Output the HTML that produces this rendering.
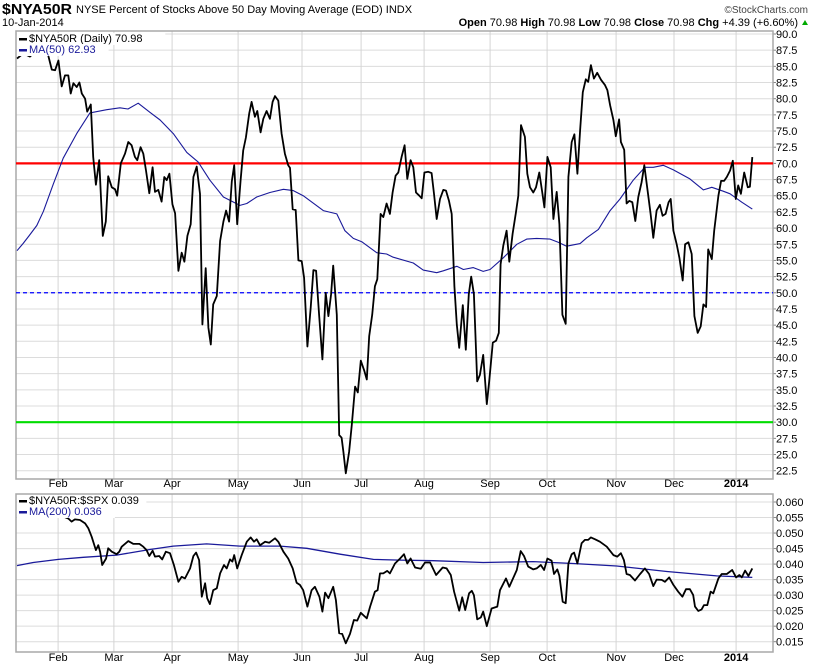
<!DOCTYPE html>
<html><head><meta charset="utf-8">
<style>
body{margin:0;background:#fff;width:820px;height:668px;overflow:hidden;font-family:"Liberation Sans",sans-serif}
svg{display:block}
</style></head>
<body>
<svg id="c" width="820" height="668" xmlns="http://www.w3.org/2000/svg"></svg>
<script>
// ---- data ----
const monthLabels=["Feb","Mar","Apr","May","Jun","Jul","Aug","Sep","Oct","Nov","Dec","2014"];
const monthDays=[13.7,32.3,51.7,73.7,95,114.7,135.7,157.7,176.7,199.7,219,239.7];
const mainTicks=[90,87.5,85,82.5,80,77.5,75,72.5,70,67.5,65,62.5,60,57.5,55,52.5,50,47.5,45,42.5,40,37.5,35,32.5,30,27.5,25,22.5];
const lowTicks=[0.060,0.055,0.050,0.045,0.040,0.035,0.030,0.025,0.020,0.015];
const priceDays=[0,2.1,4.3,6.6,9.4,10.4,11.6,12.7,13.8,14.9,16,17.1,17.9,18.8,19.9,20.8,21.6,22.7,23.4,24.6,25.4,26.3,27.4,28.6,29.6,30.4,31.6,32.7,33.4,34.6,36,37.1,38.2,39.3,40.1,41.2,42.1,43,44.1,45.2,46,47.1,48.2,49.1,49.9,50.8,51.8,52.7,53.8,54.9,55.8,56.8,57.9,58.8,59.9,61,61.8,62.9,63.8,64.6,65.4,66.6,67.7,68.8,69.7,70.7,71.6,72.4,73.4,74.5,75.4,76.3,77.4,78.2,79.3,80.1,81.2,82.1,83.2,84.3,85.2,86,87.1,88.2,89.3,90.4,91,91.9,92.9,93.8,94.9,95.7,96.8,97.9,98.8,99.7,100.7,101.8,102.9,103.8,104.7,105.4,106.6,107.4,108.2,108.8,109.6,110.7,111.6,112.7,113.6,114.6,115.8,116.6,117.4,118.4,119.3,120.1,121.2,122.1,123.2,124.3,125.2,126.2,127.1,128.2,129.2,130.1,131.2,132.1,133,134.1,134.9,135.8,137.1,138.2,139,139.9,141,142.1,143,144,144.9,145.8,146.6,147.4,148.6,149.6,150.6,151.4,152.3,153.4,154.3,155.4,156.6,157.4,158.6,159.7,160.6,161.2,162.1,163.2,164.1,165.2,166.3,167.1,168,169.3,170.1,171,172.1,173,174.1,175,175.8,176.8,177.9,178.8,179.9,180.8,181.8,182.9,183.8,184.9,185.8,186.8,187.7,188.6,189.6,190.4,191.3,192.3,193.4,194.7,196,196.8,197.7,198.8,199.6,200.7,201.3,202.4,203.2,204.1,205.1,206.1,207.1,208.2,209.1,210.2,211.2,212.1,213.2,214.3,215.2,216.2,217.2,217.9,218.8,219.9,220.8,221.9,222.7,223.8,224.9,225.8,226.9,227.9,228.8,229.7,230.4,231.6,232.4,233.8,234.7,235.7,236.6,237.7,238.6,239.6,240.4,241.3,242.4,243.6,244.3,245.1];
const priceVals=[86.2,87,86.5,87.5,87.5,86.7,84.5,84.4,85.9,81.9,83.6,83.6,80.8,82.4,81.8,82.5,80.8,80,78,79.1,71,66.7,70.5,58.8,61,68,66.3,66,65,70,71.5,73.3,72.8,71,70.5,72.5,71.5,68.9,65.4,69.4,65.6,65.9,64.1,67.9,67.4,68.4,63.7,62.3,53.4,56.2,54.8,58.8,60.6,67.9,69.5,65.3,45.1,53.8,44.6,42,48.2,49.5,58,61,62.7,61,67.2,69.7,60.6,67.2,72,74,77.7,79.5,77.2,78.1,74.8,76.9,78.1,76.9,79.5,80.4,79.7,74.6,71.5,69.7,69.3,62.9,62.8,55,54.9,52.3,41.7,47.7,53.5,53.4,46.6,39.7,50,46.4,49.8,54.2,46.6,28,27.6,25.4,22.1,25.4,29.6,35.5,34.6,39.5,37.9,36.6,43.3,46.6,51,52.1,62.2,61.7,63.8,62.2,65.5,68.1,68.6,71,72.8,67.6,70.5,69.4,65.5,65,64.6,68.6,68.7,68.5,65.3,61.4,64.5,65.9,65.8,64.2,62.2,51,45.1,41.5,48.1,41.2,49.8,52.5,49.8,36.3,37.3,40.4,32.8,36.3,42.3,42.6,43.8,54.4,57.3,59.6,54.8,59.1,62.4,65,75.9,74.1,68.4,66.3,65.5,66.3,68.6,65.8,63.2,71,69.4,61.4,65.6,60.6,46.6,45.2,67.9,73.3,74.5,68.4,75.1,81,83,82.6,85.2,83.1,84,82.9,82.1,81.3,79,76.7,74.2,76.8,73.3,72.1,63.8,64.2,64,61.1,64.8,67.1,69.7,65.8,62.2,58.5,62.7,63.6,61.9,62.2,64,64.5,59.6,57.5,55.4,51.9,57.5,57.8,56,46.4,43.8,44.8,48.2,47.8,56.7,55.2,59.6,65,67.3,67.3,67.9,68.9,70.4,64.5,66.6,65.3,68.6,66.3,66.4,70.98];
const maDays=[0,2,4,6.6,8.8,12.1,15.4,19.9,24.3,29.9,34.3,37,40.4,44.3,47.7,52.1,56.6,60.4,64.3,68.8,74.3,76.6,79.9,84.3,88.8,92.1,95.4,102.1,106.6,109.3,112.1,114.9,119.9,123.2,125.4,132.1,135.4,139.9,142.1,146.6,148.8,152.1,155.4,157.7,162.1,166.6,169.9,173.2,177.7,180.4,183.2,187.7,189.9,193.8,197.7,201,205.4,209.3,212.1,215.4,218.8,224.3,228.8,231.6,235.4,237.7,241.6,245.1];
const maVals=[56.5,57.6,58.8,60.4,62.6,66.8,70.8,74.6,77.8,78.3,78.6,78.4,79.3,77.9,76.7,74.6,71.7,70.2,67.4,64.8,63.5,63.8,64.8,65.5,66,65.8,65,62.7,62.2,59.6,58.4,57.9,56.2,56,55.5,54.6,53.5,53.1,53.4,54.1,53.6,53.9,53.3,53.6,55.4,57.5,58.3,58.4,58.3,57.8,57.2,57.6,58.5,59.8,62.7,64.5,67.4,69.4,69.4,69.7,69,67.6,65.9,66.3,65.7,65.3,64,62.93];
const ratioDays=[15,17.1,18.2,19.3,21,22.7,23.8,24.9,26.3,27.1,27.7,28.4,29.7,30.4,31.6,33.2,34.1,34.9,37.1,38.8,40.8,42.1,43.2,44.1,45.2,46,47.4,48.4,49.6,51,52.3,53.8,54.9,56,57.7,58.8,59.7,60.7,61.6,62.7,63.4,64.3,65.4,66.6,67.7,69,69.9,71,71.8,72.4,73.4,74.9,76.6,77.9,79,79.9,81,82.7,84.1,86,87.1,88.8,90.4,91.9,93.2,94.3,95.4,96.8,98.2,99.3,100.8,101.8,102.7,103.8,105.4,106.3,107.4,108.4,109.6,111,112.3,113.4,114.6,116.6,117.7,119.3,120.2,121,122.1,123.4,124.3,126,127.7,129,130.1,131.2,132.7,134.6,136,137.7,139.7,141.9,143.2,144.6,145.7,147.4,148.4,149.4,150.7,151.6,152.3,153.4,154.6,155.4,156.6,158.2,160.1,161,163,164.1,166.6,167.9,169,170.4,172.1,173.2,174.6,175.7,176.8,178.2,179,180.1,180.8,181.9,182.9,183.8,184.9,185.7,186.8,188.2,189.3,190.4,191.3,192.7,194.3,196.6,198.8,200.1,201.3,202.3,203.2,204.3,206,207.7,209.3,210.7,212.1,213.2,214.9,216,217.4,218.8,220.4,221.8,223,224.3,225.4,226,227.1,228.2,229,230.1,231.2,232.1,233.8,234.9,236.6,238.4,239.7,240.8,241.6,242.7,243.8,245.1];
const ratioVals=[0.0555,0.0547,0.0537,0.0544,0.0542,0.0531,0.0515,0.0488,0.0445,0.0461,0.0440,0.0397,0.0418,0.0451,0.0440,0.0432,0.0440,0.0456,0.0474,0.0465,0.0465,0.0456,0.0445,0.0426,0.0443,0.0424,0.0426,0.0415,0.0440,0.0435,0.0397,0.0343,0.0359,0.0354,0.0386,0.0426,0.0437,0.0413,0.0295,0.0338,0.0290,0.0271,0.0316,0.0322,0.0370,0.0397,0.0386,0.0415,0.0408,0.0429,0.0386,0.0429,0.0472,0.0486,0.0472,0.0480,0.0461,0.0472,0.0469,0.0483,0.0472,0.0440,0.0418,0.0386,0.0340,0.0333,0.0316,0.0263,0.0316,0.0327,0.0295,0.0247,0.0308,0.0290,0.0327,0.0284,0.0177,0.0175,0.0145,0.0175,0.0220,0.0218,0.0243,0.0225,0.0263,0.0311,0.0316,0.0370,0.0370,0.0378,0.0370,0.0402,0.0418,0.0432,0.0402,0.0418,0.0389,0.0385,0.0405,0.0405,0.0365,0.0389,0.0386,0.0365,0.0311,0.0250,0.0293,0.0252,0.0306,0.0314,0.0300,0.0222,0.0228,0.0247,0.0200,0.0257,0.0263,0.0316,0.0354,0.0327,0.0381,0.0442,0.0426,0.0392,0.0383,0.0386,0.0397,0.0381,0.0418,0.0411,0.0368,0.0383,0.0362,0.0279,0.0274,0.0402,0.0432,0.0437,0.0402,0.0467,0.0478,0.0478,0.0486,0.0480,0.0472,0.0456,0.0429,0.0424,0.0435,0.0413,0.0368,0.0365,0.0347,0.0368,0.0386,0.0368,0.0329,0.0350,0.0349,0.0343,0.0357,0.0333,0.0311,0.0295,0.0319,0.0319,0.0300,0.0263,0.0249,0.0254,0.0268,0.0268,0.0311,0.0306,0.0354,0.0368,0.0368,0.0381,0.0357,0.0365,0.0357,0.0379,0.0362,0.0386];
const ma200Days=[0,5.4,13.8,22.1,33.2,44.3,52.1,63.2,74.3,87.7,96.6,107.7,118.8,127.7,138.8,155.4,172.1,185.4,199.9,216.6,233.2,245.1];
const ma200Vals=[0.0395,0.0405,0.0415,0.0422,0.0429,0.0447,0.0458,0.0465,0.0458,0.0458,0.0451,0.0432,0.0415,0.0413,0.0411,0.0405,0.0408,0.0402,0.0394,0.0376,0.0362,0.0357];
const refLines=[70,50,30];

// ---- geometry ----
const svg=document.getElementById('c');
const NS='http://www.w3.org/2000/svg';
const L=16,R=773,T1=31,B1=479,T2=494,B2=652;
const xS=d=>17+d*3;
const y1=v=>34+(90-v)*(436.7/67.5);
const y2=v=>502+(0.060-v)*(139.7/0.045);
function mk(tag,at,parent){const e=document.createElementNS(NS,tag);for(const k in at)e.setAttribute(k,at[k]);(parent||svg).appendChild(e);return e;}
function txt(s,x,y,at){const e=mk('text',Object.assign({x:x,y:y,'font-size':11,fill:'#000','font-family':'Liberation Sans, sans-serif'},at||{}));e.textContent=s;return e;}

// header
let t;
t=txt('$NYA50R',2,14,{'font-size':15,'font-weight':'bold',textLength:70,lengthAdjust:'spacingAndGlyphs'});

t=txt('NYSE Percent of Stocks Above 50 Day Moving Average (EOD)  INDX',76,13,{'font-size':11});

t=txt('\u00a9StockCharts.com',808,13,{'font-size':10,'text-anchor':'end',fill:'#444'});

t=txt('10-Jan-2014',2,26,{'font-size':11});

const q=mk('text',{x:798,y:26,'font-size':11,'text-anchor':'end','font-family':'Liberation Sans, sans-serif'});

q.innerHTML='<tspan font-weight="bold">Open</tspan> 70.98 <tspan font-weight="bold">High</tspan> 70.98 <tspan font-weight="bold">Low</tspan> 70.98 <tspan font-weight="bold">Close</tspan> 70.98 <tspan font-weight="bold">Chg</tspan> +4.39 (+6.60%)';
t=mk('polygon',{points:'802,25 808,25 805,20',fill:'#0a0'});


function panel(T,B,ticks,yf,fmt,name){
  const g=mk('g',{});
  
  ticks.forEach(v=>{const y=yf(v);
    mk('line',{x1:L,x2:R,y1:y,y2:y,stroke:'#dcdcdc','stroke-width':1},g);
    mk('line',{x1:R,x2:R+3,y1:y,y2:y,stroke:'#888'},g);
    const tt=txt(fmt(v),R+3,y+4,{'font-size':11});g.appendChild(tt);
  });
  monthDays.forEach(d=>mk('line',{x1:xS(d),x2:xS(d),y1:T,y2:B,stroke:'#d4d4d4'},g));
  mk('rect',{x:L,y:T,width:R-L,height:B-T,fill:'none',stroke:'#a8a8a8','stroke-width':1.5},g);
  return g;
}
panel(T1,B1,mainTicks,y1,v=>v.toFixed(1),'main-panel');
panel(T2,B2,lowTicks,y2,v=>v.toFixed(3),'ratio-panel');

// month labels
[487,661].forEach((yy,k)=>{monthLabels.forEach((m,i)=>{
  const e=txt(m,xS(monthDays[i]),yy,{'text-anchor':'middle','font-size':11,'font-weight':m==='2014'?'bold':'normal'});
  
  
});});

// reference lines
const refColors=['#f00','#00f','#0d0'];
refLines.forEach((v,i)=>{
  const e=mk('line',{x1:L,x2:R,y1:y1(v),y2:y1(v),stroke:refColors[i],'stroke-width':i===1?1.2:2.2});
  if(i===1)e.setAttribute('stroke-dasharray','4,3');
  
  
});

function series(days,vals,yf,color,w,name){
  const p=days.map((d,i)=>xS(d).toFixed(1)+','+yf(vals[i]).toFixed(1)).join(' ');
  const e=mk('polyline',{points:p,fill:'none',stroke:color,'stroke-width':w,'stroke-linejoin':'round'});
  
  
}
series(maDays,maVals,y1,'#1a1a9a',1.1,'ma50-line');
series(priceDays,priceVals,y1,'#000',1.8,'nya50r-line');
series(ma200Days,ma200Vals,y2,'#1a1a9a',1.3,'ma200-line');
series(ratioDays,ratioVals,y2,'#000',1.8,'ratio-line');

// legends
function legend(y,label,color,name){
  mk('rect',{x:L+1,y:y-9,width:label.length*6.3+16,height:12,fill:'#fff'});
  mk('rect',{x:L+3,y:y-4,width:8,height:2.5,fill:color});
  const e=txt(label,L+13,y,{'font-size':11,fill:color});
  
  
}
legend(42,'$NYA50R (Daily) 70.98','#000','legend-nya50r');
legend(53,'MA(50) 62.93','#1a1a9a','legend-ma50');
legend(504,'$NYA50R:$SPX 0.039','#000','legend-ratio');
legend(515,'MA(200) 0.036','#1a1a9a','legend-ma200');
</script>
</body></html>
